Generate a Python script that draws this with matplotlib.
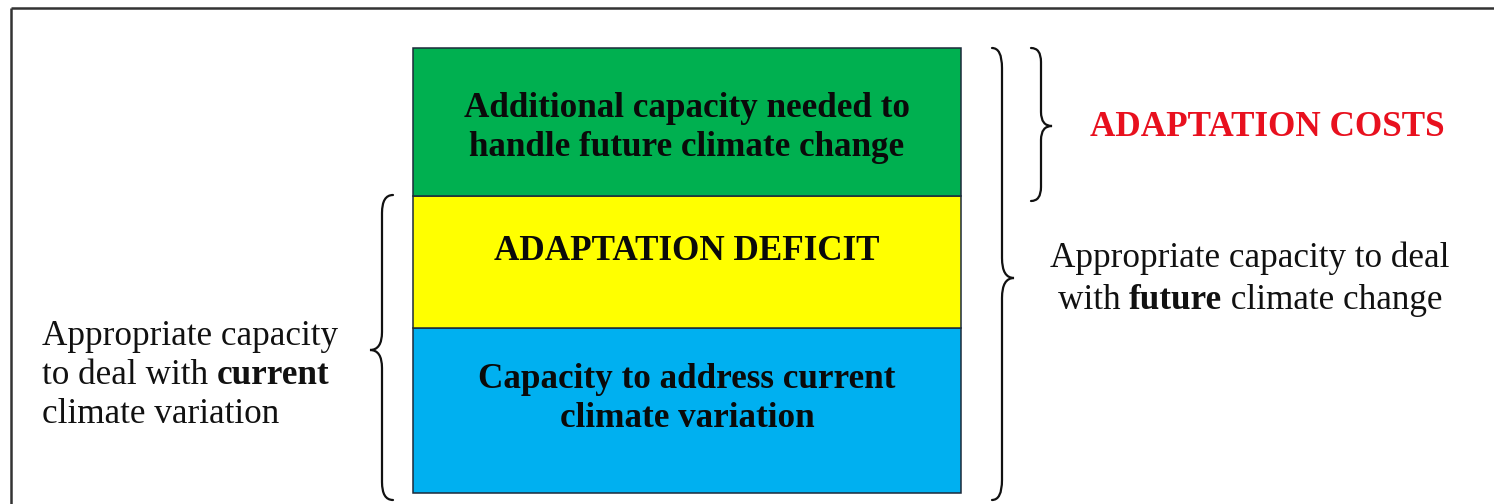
import matplotlib
matplotlib.use("Agg")
import matplotlib.pyplot as plt
from matplotlib.patches import PathPatch
from matplotlib.path import Path

# ---- data -------------------------------------------------------------
layer_labels = ["Capacity to address current\nclimate variation",
                "ADAPTATION DEFICIT",
                "Additional capacity needed to\nhandle future climate change"]
layer_heights = [165, 132, 148]          # bottom -> top
layer_colors = ["#00B0F0", "#FFFF00", "#00B050"]

left_note = [[("Appropriate capacity", False)],
             [("to deal with ", False), ("current", True)],
             [("climate variation", False)]]
right_note = [[("Appropriate capacity to deal", False)],
              [("with ", False), ("future", True), (" climate change", False)]]
cost_label = "ADAPTATION COSTS"

# ---- figure -----------------------------------------------------------
W, H = 1494, 504
fig = plt.figure(figsize=(W / 100, H / 100), dpi=100)
ax = fig.add_axes([0, 0, 1, 1])
ax.set_xlim(0, W)
ax.set_ylim(0, H)
ax.axis("off")

FONT = "Liberation Serif"
FS = 25.3

def py(p):  # pixel row -> data y
    return H - p

# outer frame (only top + left visible)
ax.plot([11, 11], [-5, py(8)], color="#333333", lw=1.8, solid_capstyle="butt")
ax.plot([11, W + 5], [py(8), py(8)], color="#333333", lw=1.8, solid_capstyle="butt")

# stacked boxes
box_left, box_right = 413, 961
bottom = py(493)
bars = ax.bar([(box_left + box_right) / 2] * 3, layer_heights,
              width=box_right - box_left,
              bottom=[bottom, bottom + layer_heights[0],
                      bottom + layer_heights[0] + layer_heights[1]],
              color=layer_colors, edgecolor="#1c2a3a", linewidth=1.1)

text_offsets = [-11.5, -10, 6]
bot = bottom
for lab, h, off in zip(layer_labels, layer_heights, text_offsets):
    ax.text((box_left + box_right) / 2, bot + h / 2 - off, lab,
            ha="center", va="center", fontsize=FS, fontweight="bold",
            family=FONT, color="#0a0a0a", linespacing=1.25)
    bot += h

# braces
def brace(x_end, x_spine, x_tip, y_top, y_mid, y_bot, r=14, lw=1.6):
    verts = [(x_end, y_top), (x_spine, y_top), (x_spine, y_top - r),
             (x_spine, y_mid + r), (x_spine, y_mid), (x_tip, y_mid),
             (x_spine, y_mid), (x_spine, y_mid - r),
             (x_spine, y_bot + r), (x_spine, y_bot), (x_end, y_bot)]
    codes = [Path.MOVETO, Path.CURVE3, Path.CURVE3,
             Path.LINETO, Path.CURVE3, Path.CURVE3,
             Path.CURVE3, Path.CURVE3,
             Path.LINETO, Path.CURVE3, Path.CURVE3]
    ax.add_patch(PathPatch(Path(verts, codes), facecolor="none",
                           edgecolor="#111111", lw=lw, capstyle="round"))

brace(393, 382, 370, py(195), py(350), py(500), r=18)
brace(992, 1002, 1014, py(48), py(278), py(500), r=20)
brace(1031, 1041, 1052, py(48), py(126), py(201), r=14)

# red label
ax.text(1267, py(136), cost_label, ha="center", va="baseline",
        fontsize=FS, fontweight="bold", family=FONT, color="#E8101E")

# mixed-weight lines
renderer = fig.canvas.get_renderer()

def rich_line(x, y, parts, ha="left"):
    texts, widths = [], []
    for s, b in parts:
        t = ax.text(0, y, s, ha="left", va="baseline", fontsize=FS,
                    fontweight="bold" if b else "normal", family=FONT,
                    color="#111111")
        widths.append(t.get_window_extent(renderer).width)
        texts.append(t)
    total = sum(widths)
    cur = x - total / 2 if ha == "center" else x
    for t, w in zip(texts, widths):
        t.set_x(cur)
        cur += w

for i, parts in enumerate(left_note):
    rich_line(42, py(345 + 39 * i), parts)
for i, parts in enumerate(right_note):
    rich_line(1250, py(267 + 42 * i), parts, ha="center")

fig.savefig("out.png", dpi=100, facecolor="white")
